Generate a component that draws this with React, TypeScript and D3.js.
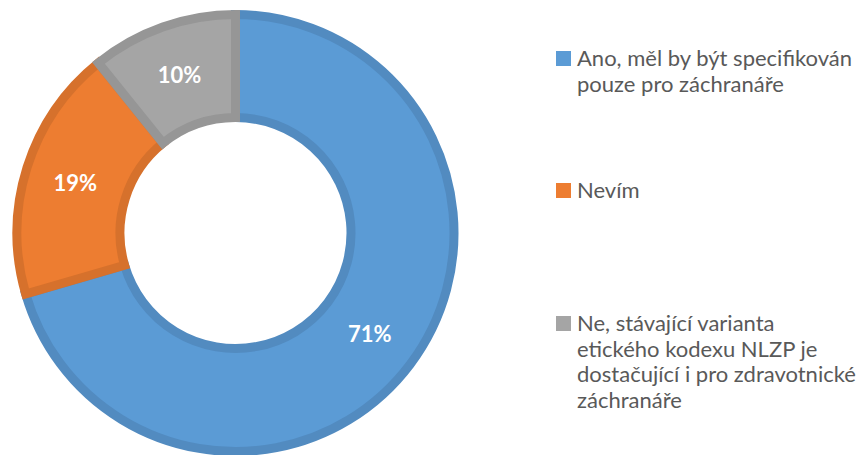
import React from "react";
import { pie, arc, PieArcDatum } from "d3";

const categories = [
  ["Ano, měl by být specifikován", "pouze pro záchranáře"],
  ["Nevím"],
  ["Ne, stávající varianta", "etického kodexu NLZP je", "dostačující i pro zdravotnické", "záchranáře"],
];
// shares
const shares = [70.5, 18.7, 10.8];
const shareLabels = ["71%", "19%", "10%"];
const fills = ["#5B9BD5", "#ED7D31", "#A5A5A5"];
const strokes = ["#528BC0", "#D6712C", "#969696"];

const W = 865;
const H = 455;
const cx = 235.5;
const cy = 233;
const outerR = 223;
const innerR = 111;
const sw = 9;

const legendFont = "Lato, 'Open Sans', sans-serif";
const legendBaselines = [66, 198, 331];
const lineH = 25.7;

export default function App() {
  const slices = pie<number>().sort(null).value(d => d)(shares);
  const ring = arc<PieArcDatum<number>>()
    .innerRadius(innerR + sw / 2)
    .outerRadius(outerR - sw / 2);
  const labelArc = arc<PieArcDatum<number>>()
    .innerRadius(168)
    .outerRadius(168);

  return (
    <svg width={W} height={H} style={{ position: "absolute", left: 0, top: 0 }}>
      <rect width={W} height={H} fill="#fff" />
      <g transform={`translate(${cx},${cy})`}>
        {slices.map((s, i) => (
          <path key={i} d={ring(s) || ""} fill={fills[i]} stroke={strokes[i]} strokeWidth={sw} strokeLinejoin="miter" />
        ))}
        {slices.map((s, i) => {
          const [x, y] = labelArc.centroid(s);
          return (
            <text key={i} x={x} y={y} dy="0.36em" textAnchor="middle" fill="#fff"
              fontFamily={legendFont} fontWeight="bold" fontSize={22}>
              {shareLabels[i]}
            </text>
          );
        })}
      </g>
      <g>
        {categories.map((lines, i) => (
          <g key={i}>
            <rect x={556} y={legendBaselines[i] - 15} width={15} height={15} fill={fills[i]} />
            <text x={577} y={legendBaselines[i]} fill="#595959" fontFamily={legendFont} fontSize={22}>
              {lines.map((l, j) => (
                <tspan key={j} x={577} dy={j === 0 ? 0 : lineH}>{l}</tspan>
              ))}
            </text>
          </g>
        ))}
      </g>
    </svg>
  );
}
